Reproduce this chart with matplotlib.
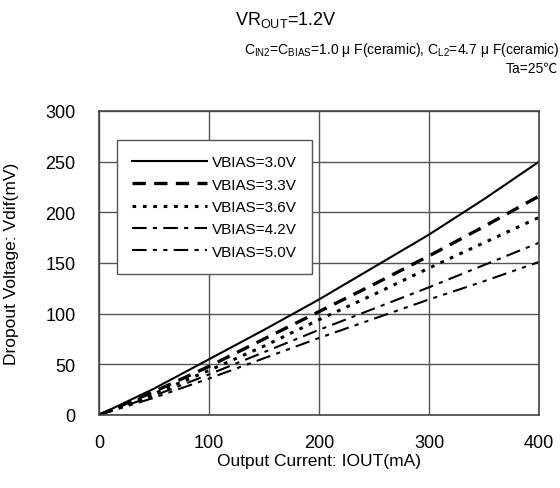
import matplotlib
matplotlib.use("Agg")
import matplotlib.pyplot as plt

plt.rcParams['font.family'] = ['Liberation Sans', 'DejaVu Sans']
plt.rcParams['mathtext.fontset'] = 'custom'
plt.rcParams['mathtext.rm'] = 'Liberation Sans'
plt.rcParams['mathtext.it'] = 'Liberation Sans'

iout = [0, 50, 100, 150, 200, 250, 300, 350, 400]
v30 = [0, 26, 55, 84, 114, 146, 178, 213, 250]
v33 = [0, 23, 48, 75, 102, 129, 157, 186, 216]
v36 = [0, 21, 44, 68, 94, 119, 145, 170, 195]
v42 = [0, 19, 40, 62, 84, 105, 126, 148, 170]
v50 = [0, 17, 36, 56, 76, 95, 114, 132, 151]
labels = ['VBIAS=3.0V', 'VBIAS=3.3V', 'VBIAS=3.6V', 'VBIAS=4.2V', 'VBIAS=5.0V']
xticks = [0, 100, 200, 300, 400]
yticks = [0, 50, 100, 150, 200, 250, 300]

fig = plt.figure(figsize=(5.6, 4.89), dpi=100)
ax = fig.add_axes([99/560, 1-416/489, 440/560, 304/489])

styles = [
    dict(linestyle='-', linewidth=1.5),
    dict(linestyle=(0, (4, 2.5)), linewidth=2.4),
    dict(linestyle=(0, (1.2, 2.2)), linewidth=2.2),
    dict(linestyle=(0, (7, 3, 2, 3)), linewidth=1.5),
    dict(linestyle=(0, (7, 3, 2, 3, 2, 3)), linewidth=1.5),
]
for ys, lab, st in zip([v30, v33, v36, v42, v50], labels, styles):
    ax.plot(iout, ys, color='black', label=lab, **st)

ax.set_xlim(0, 400)
ax.set_ylim(0, 300)
ax.set_xticks(xticks)
ax.set_yticks(yticks)
ax.grid(True, color='#555555', linewidth=1.0)
ax.set_axisbelow(True)
ax.tick_params(length=0, labelsize=13)
ax.tick_params(axis='x', pad=14)
ax.tick_params(axis='y', pad=17)
for s in ax.spines.values():
    s.set_color('#444444')
    s.set_linewidth(1.2)

ax.set_xlabel('Output Current: IOUT(mA)', fontsize=12.5, labelpad=1)
ax.set_ylabel('Dropout Voltage: Vdif(mV)', fontsize=12.5, labelpad=19)

leg = ax.legend(loc='upper left', bbox_to_anchor=(0.041, 0.905), fontsize=11,
                handlelength=4.9, handletextpad=0.3, labelspacing=0.55,
                frameon=True, fancybox=False, borderpad=1.0, borderaxespad=0)
leg.get_frame().set_edgecolor('#555555')
leg.get_frame().set_linewidth(1.0)
leg.get_frame().set_alpha(1)

fig.text(235/560, 1-20/489, r'VR$_{\mathrm{OUT}}$=1.2V', fontsize=13, va='center', ha='left')
fig.text(559/560, 1-50/489,
         r'C$_{\mathrm{IN2}}$=C$_{\mathrm{BIAS}}$=1.0 μ F(ceramic), C$_{\mathrm{L2}}$=4.7 μ F(ceramic)',
         fontsize=10, va='center', ha='right')
fig.text(558/560, 1-69/489, 'Ta=25℃', fontsize=10, va='center', ha='right',
         family=['Liberation Sans', 'Noto Sans CJK JP', 'DejaVu Sans'])

fig.savefig('out.png', dpi=100)
